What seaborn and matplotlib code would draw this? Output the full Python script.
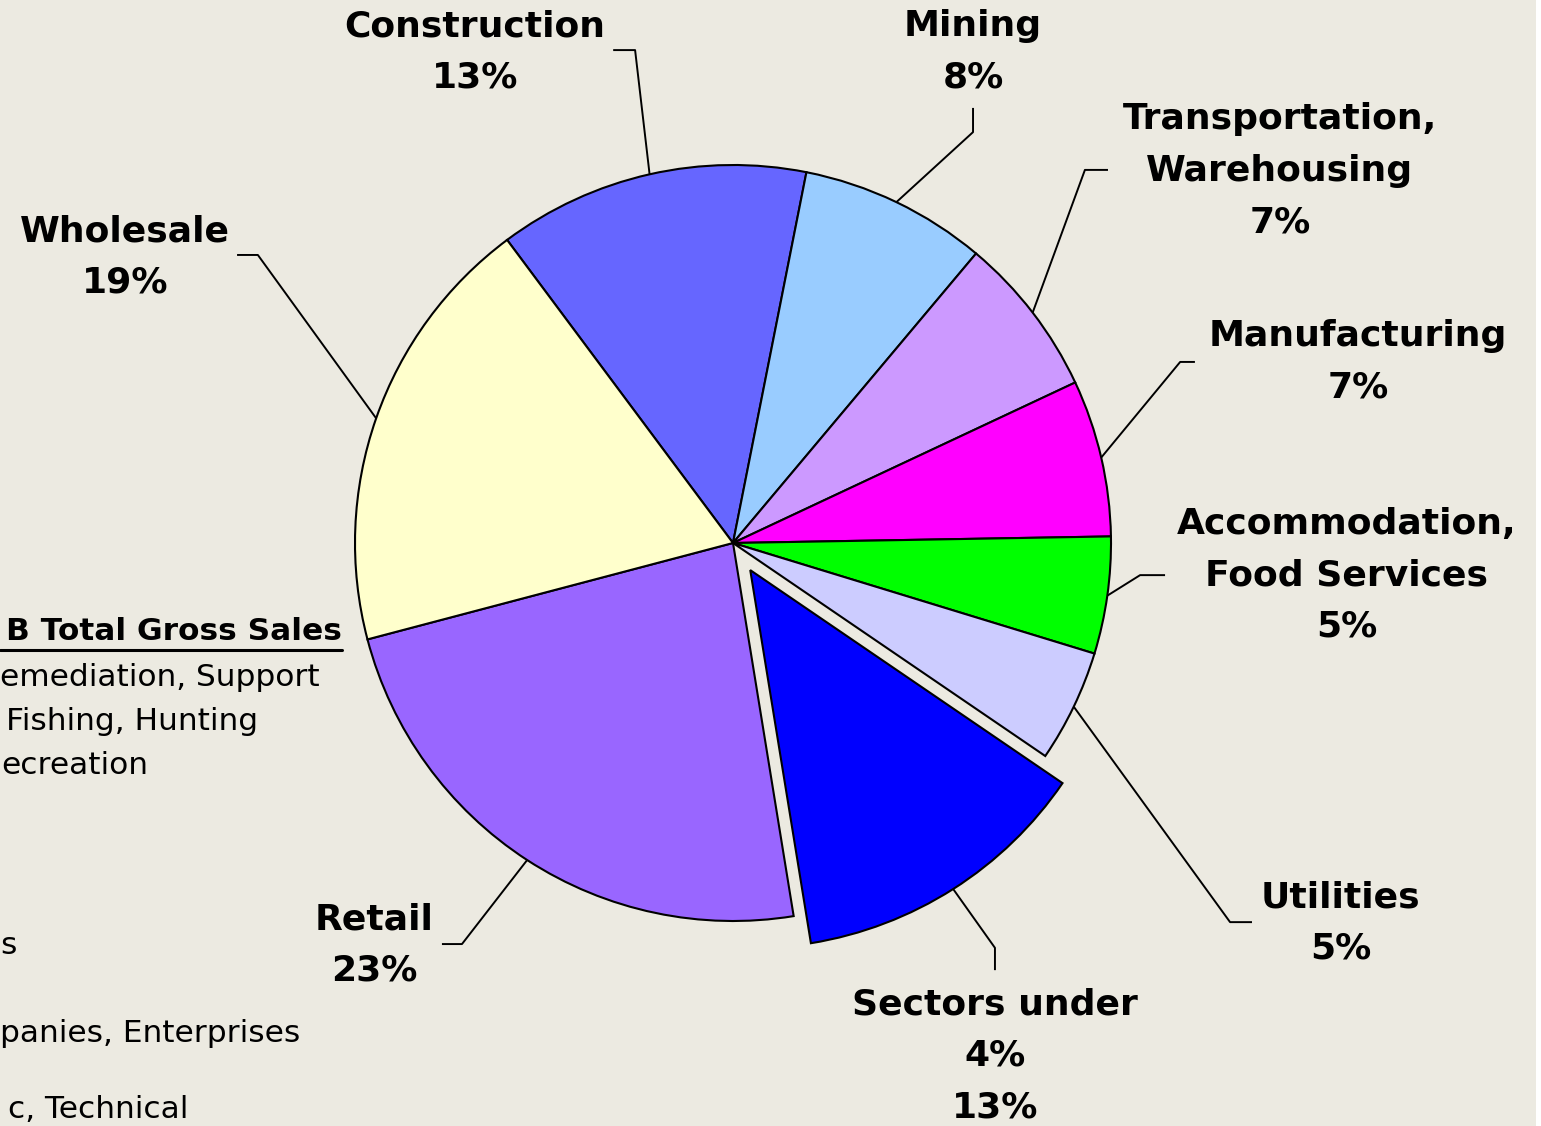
import numpy as np
import matplotlib
matplotlib.use("Agg")
import matplotlib.pyplot as plt
import seaborn as sns

# ---------------- data ----------------
sectors = ["Construction", "Mining", "Transportation,\nWarehousing", "Manufacturing",
           "Accommodation,\nFood Services", "Utilities", "Sectors under\n4%", "Retail",
           "Wholesale"]
shares = [13.3, 8.0, 6.9, 6.7, 5.0, 4.8, 12.9, 23.45, 18.9]
colors = ["#6666FF", "#99CCFF", "#CC99FF", "#FF00FF", "#00FF00", "#CCCCFF",
          "#0000FF", "#9966FF", "#FFFFCC"]
explode = [0, 0, 0, 0, 0, 0, 0.085, 0, 0]

# label layout (pie-radius units): text centre, leader elbow, leader end
label_pos = [(-0.683, 1.299), (0.635, 1.299), (1.447, 0.984), (1.653, 0.479),
             (1.624, -0.085), (1.608, -1.005), (0.693, -1.357), (-0.950, -1.063),
             (-1.608, 0.757)]
elbow_pos = [(-0.259, 1.304), (0.635, 1.087), (0.931, 0.987), (1.183, 0.479),
             (1.077, -0.085), (1.315, -1.003), (0.693, -1.071), (-0.717, -1.061),
             (-1.257, 0.762)]
end_pos = [(-0.317, 1.304), (0.635, 1.151), (0.992, 0.987), (1.222, 0.479),
           (1.143, -0.085), (1.373, -1.003), (0.693, -1.130), (-0.770, -1.061),
           (-1.312, 0.762)]

# partially visible side note (cropped at the left edge in the original)
side_header = "B Total Gross Sales"
side_lines = ["emediation, Support", "Fishing, Hunting", "ecreation", "s",
              "panies, Enterprises", "c, Technical"]
side_right = [320, 258, 148, 17, 300, 188]      # right end, px
side_y = [677, 721, 765, 945, 1033, 1110]      # line centre, px

# ---------------- style ----------------
sns.set_theme(style="white")
plt.rcParams["font.family"] = ["DejaVu Sans"]

W, H = 1541, 1126
CX, CY, R = 733, 543, 378
PLOT_W = 1536

fig = plt.figure(figsize=(W / 100, H / 100), dpi=100, facecolor="white")
ax = fig.add_axes([0, 0, PLOT_W / W, 1])
ax.set_facecolor("#ECEAE1")

start = 90 - 323.3
wedges, _ = ax.pie(shares, colors=colors, explode=explode, startangle=start,
                   counterclock=False, frame=True,
                   wedgeprops=dict(edgecolor="black", linewidth=1.5))

for w, name, val, lp, ep, nd in zip(wedges, sectors, shares, label_pos,
                                    elbow_pos, end_pos):
    mid = np.deg2rad((w.theta1 + w.theta2) / 2)
    cx, cy = w.center
    ax_, ay_ = cx + w.r * np.cos(mid), cy + w.r * np.sin(mid)
    ax.plot([ax_, ep[0], nd[0]], [ay_, ep[1], nd[1]], color="black", lw=1.4,
            zorder=0.5, solid_capstyle="butt")
    ax.text(lp[0], lp[1], f"{name}\n{round(val)}%", ha="center", va="center",
            multialignment="center", fontsize=26, fontweight="bold",
            color="black", linespacing=1.65)


def to_data(x, y):
    return (x - CX) / R, (CY - y) / R


hx, hy = to_data(342, 632)
ax.text(hx, hy, side_header, ha="right", va="center", fontsize=22.5,
        fontweight="bold", color="black")
ux0, uy = to_data(0, 650)
ux1, _ = to_data(342, 650)
ax.plot([ux0, ux1], [uy, uy], color="black", lw=2.2, zorder=2)

for txt, xr, yc in zip(side_lines, side_right, side_y):
    tx, ty = to_data(xr, yc)
    ax.text(tx, ty, txt, ha="right", va="center", fontsize=22.5, color="black")

ax.set_xlim(-CX / R, (PLOT_W - CX) / R)
ax.set_ylim((CY - H) / R, CY / R)
ax.set_aspect("equal")
ax.set_xticks([])
ax.set_yticks([])
for s in ax.spines.values():
    s.set_visible(False)

fig.savefig("out.png", dpi=100, facecolor=fig.get_facecolor())
